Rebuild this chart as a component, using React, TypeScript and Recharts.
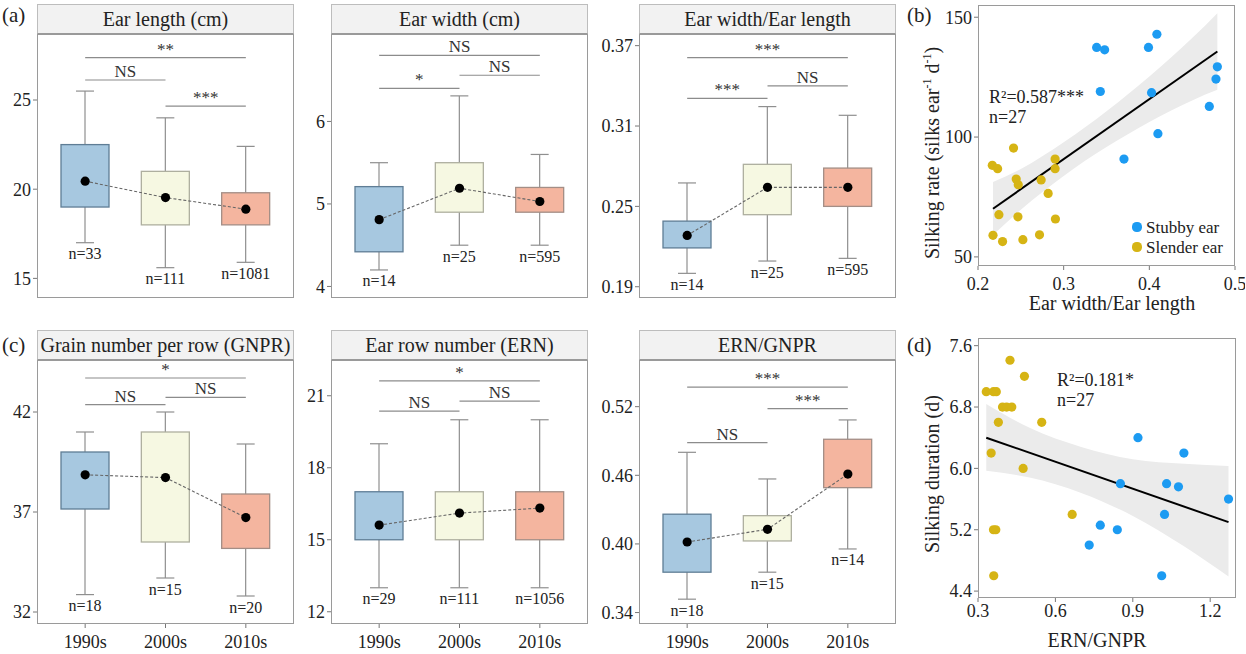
import React from 'react';
import { Area, Bar, ComposedChart, Line, ReferenceLine, Scatter, XAxis, YAxis } from 'recharts';

const FONT = "'Liberation Serif', 'Times New Roman', serif";
const INK = '#222';
const DECADES = ['1990s', '2000s', '2010s'];
const BOX_FILL = ['#a7c8e0', '#f6f8e2', '#f4b59f'];
const BOX_EDGE = ['#5f7d95', '#aeaf9f', '#a38e86'];
const STUBBY = '#1c9bf2';
const SLENDER = '#d6b414';

const PLOT_W = 257;
const PLOT_H = 264;

type Sig = { from: number; to: number; y: number; text: string };

// each row: lower whisker, Q1, Q3, upper whisker
const earLengthBox = [[17.0, 19.0, 22.5, 25.5], [15.6, 18.0, 21.0, 24.0], [15.9, 18.0, 19.8, 22.4]];
const earLengthMean = [20.45, 19.53, 18.88];
const earLengthN = [33, 111, 1081];
const earLengthTicks = [15, 20, 25];
const earLengthSig: Sig[] = [
  { from: 0, to: 2, y: 27.37, text: '**' },
  { from: 0, to: 1, y: 26.12, text: 'NS' },
  { from: 1, to: 2, y: 24.66, text: '***' },
];

const earWidthBox = [[4.2, 4.42, 5.21, 5.5], [4.5, 4.9, 5.5, 6.31], [4.5, 4.9, 5.2, 5.6]];
const earWidthMean = [4.81, 5.19, 5.03];
const earWidthN = [14, 25, 595];
const earWidthTicks = [4, 5, 6];
const earWidthSig: Sig[] = [
  { from: 0, to: 2, y: 6.8, text: 'NS' },
  { from: 1, to: 2, y: 6.56, text: 'NS' },
  { from: 0, to: 1, y: 6.4, text: '*' },
];

const shapeBox = [[0.2, 0.219, 0.239, 0.2675], [0.2092, 0.2438, 0.2814, 0.3245], [0.2112, 0.25, 0.2786, 0.318]];
const shapeMean = [0.2283, 0.2642, 0.2642];
const shapeN = [14, 25, 595];
const shapeTicks = [0.19, 0.25, 0.31, 0.37];
const shapeSig: Sig[] = [
  { from: 0, to: 2, y: 0.361, text: '***' },
  { from: 1, to: 2, y: 0.34, text: 'NS' },
  { from: 0, to: 1, y: 0.3307, text: '***' },
];

const gnprBox = [[32.87, 37.15, 40.0, 41.0], [33.7, 35.5, 41.0, 42.0], [32.8, 35.18, 37.9, 40.4]];
const gnprMean = [38.86, 38.72, 36.72];
const gnprN = [18, 15, 20];
const gnprTicks = [32, 37, 42];
const gnprSig: Sig[] = [
  { from: 0, to: 2, y: 43.7, text: '*' },
  { from: 0, to: 1, y: 42.37, text: 'NS' },
  { from: 1, to: 2, y: 42.73, text: 'NS' },
];

const ernBox = [[13, 15, 17, 19], [13, 15, 17, 20], [13, 15, 17, 20]];
const ernMean = [15.61, 16.11, 16.32];
const ernN = [29, 111, 1056];
const ernTicks = [12, 15, 18, 21];
const ernSig: Sig[] = [
  { from: 0, to: 2, y: 21.62, text: '*' },
  { from: 1, to: 2, y: 20.78, text: 'NS' },
  { from: 0, to: 1, y: 20.36, text: 'NS' },
];

const ratioBox = [[0.3517, 0.3753, 0.426, 0.4801], [0.3753, 0.4026, 0.4247, 0.4568], [0.3956, 0.4492, 0.4915, 0.5084]];
const ratioMean = [0.4017, 0.4128, 0.4611];
const ratioN = [18, 15, 14];
const ratioTicks = [0.34, 0.4, 0.46, 0.52];
const ratioSig: Sig[] = [
  { from: 0, to: 2, y: 0.537, text: '***' },
  { from: 1, to: 2, y: 0.5183, text: '***' },
  { from: 0, to: 1, y: 0.4885, text: 'NS' },
];

// (b) silking rate against ear width/ear length
const stubbyShape = [0.3385, 0.3478, 0.399, 0.4088, 0.3428, 0.4026, 0.4794, 0.4778, 0.47, 0.41, 0.3704];
const stubbyRate = [137.4, 136.4, 137.4, 142.9, 119.0, 118.5, 129.3, 124.2, 112.8, 101.4, 90.8];
const slenderShape = [0.2415, 0.2167, 0.2229, 0.29, 0.29, 0.2446, 0.247, 0.2737, 0.2819, 0.2244, 0.2466, 0.2904, 0.2175, 0.2287, 0.2524, 0.2718];
const slenderRate = [95.4, 88.2, 86.8, 90.8, 86.8, 82.5, 80.1, 82.1, 76.5, 67.6, 66.7, 65.8, 59.0, 56.4, 57.2, 59.2];
const rateFitX = [0.2175, 0.4794];
const rateFitY = [70.1, 135.7];
const rateBandX = [0.2175, 0.25, 0.3, 0.35, 0.4, 0.45, 0.4794];
const rateBandLo = [59.1, 69.7, 83.8, 95.8, 106.3, 115.3, 119.7];
const rateBandHi = [81.3, 86.7, 97.8, 110.8, 125.3, 141.3, 151.7];

// (d) silking duration against ERN/GNPR
const stubbyRatio = [0.92, 1.098, 0.852, 1.031, 1.077, 1.271, 1.023, 0.774, 0.84, 0.731, 1.012];
const stubbyDuration = [6.4, 6.2, 5.8, 5.8, 5.76, 5.6, 5.4, 5.26, 5.2, 5.0, 4.6];
const slenderRatio = [0.424, 0.48, 0.332, 0.36, 0.371, 0.395, 0.411, 0.431, 0.379, 0.547, 0.351, 0.475, 0.665, 0.36, 0.369, 0.361];
const slenderDuration = [7.41, 7.2, 7.0, 7.0, 7.0, 6.8, 6.8, 6.8, 6.6, 6.6, 6.2, 6.0, 5.4, 5.2, 5.2, 4.6];
const durationFitX = [0.332, 1.271];
const durationFitY = [6.4, 5.3];
const durationBandX = [0.332, 0.5, 0.7, 0.9, 1.1, 1.271];
const durationBandLo = [5.97, 5.88, 5.68, 5.38, 4.98, 4.59];
const durationBandHi = [6.84, 6.53, 6.28, 6.12, 6.06, 6.03];

const zipXY = (xs: number[], ys: number[]) => xs.map((x, i) => ({ x, y: ys[i] }));
const zipBand = (xs: number[], lo: number[], hi: number[]) => xs.map((x, i) => ({ x, band: [lo[i], hi[i]] }));

// whole box-and-whisker drawn inside the whisker range bar
const BoxShape = (props: any) => {
  const { x, y, width, height, payload } = props;
  const top = Math.min(y, y + height);
  const bottom = Math.max(y, y + height);
  const { lo, hi, q1, q3, n, idx } = payload;
  const toY = (v: number) => bottom - ((v - lo) / (hi - lo)) * (bottom - top);
  const cx = x + width / 2;
  const cap = 9;
  return (
    <g>
      <line x1={cx} x2={cx} y1={toY(hi)} y2={toY(lo)} stroke="#8f8f8f" strokeWidth={1.2} />
      <line x1={cx - cap} x2={cx + cap} y1={toY(hi)} y2={toY(hi)} stroke="#8f8f8f" strokeWidth={1.2} />
      <line x1={cx - cap} x2={cx + cap} y1={toY(lo)} y2={toY(lo)} stroke="#8f8f8f" strokeWidth={1.2} />
      <rect x={x} y={toY(q3)} width={width} height={toY(q1) - toY(q3)} fill={BOX_FILL[idx]} stroke={BOX_EDGE[idx]} strokeWidth={1.3} />
      <text x={cx} y={toY(lo) + 16.5} textAnchor="middle" fontSize={16} fill={INK}>
        n={n}
      </text>
    </g>
  );
};

const Dot = (props: any) => <circle cx={props.cx} cy={props.cy} r={4.6} fill={props.fill} />;

type BoxPanelProps = {
  title: string;
  box: number[][];
  mean: number[];
  n: number[];
  ticks: number[];
  domain: [number, number];
  sig: Sig[];
  left: number;
  top: number;
  showX: boolean;
  digits?: number;
};

function BoxPanel({ title, box, mean, n, ticks, domain, sig, left, top, showX, digits = 0 }: BoxPanelProps) {
  const data = DECADES.map((decade, i) => ({
    decade,
    idx: i,
    lo: box[i][0],
    q1: box[i][1],
    q3: box[i][2],
    hi: box[i][3],
    mean: mean[i],
    n: n[i],
  }));
  const xH = showX ? 36 : 8;
  return (
    <>
      <div
        style={{
          position: 'absolute',
          left,
          top: top - 30,
          width: PLOT_W,
          height: 30,
          boxSizing: 'border-box',
          background: '#f2f2f2',
          border: '1px solid #bdbdbd',
          borderBottom: '1px solid #9a9a9a',
          fontSize: 20,
          lineHeight: '28px',
          textAlign: 'center',
          whiteSpace: 'nowrap',
          color: INK,
        }}
      >
        {title}
      </div>
      <div style={{ position: 'absolute', left: left - 40, top: top - 2 }}>
        <ComposedChart width={40 + PLOT_W + 2} height={2 + PLOT_H + xH} data={data} margin={{ top: 2, right: 2, bottom: 0, left: 0 }}>
          <XAxis
            dataKey="decade"
            padding={{ left: 8, right: 8 }}
            axisLine={false}
            tickSize={4}
            tickMargin={7}
            height={xH}
            tick={showX ? { fontSize: 18, fill: INK } : false}
            tickLine={{ stroke: '#777' }}
          />
          <YAxis
            type="number"
            domain={domain}
            ticks={ticks}
            allowDataOverflow
            interval={0}
            width={40}
            axisLine={false}
            tickSize={4}
            tickMargin={2}
            tick={{ fontSize: 18, fill: INK }}
            tickLine={{ stroke: '#777' }}
            tickFormatter={(v: number) => v.toFixed(digits)}
          />
          {sig.map((s) => (
            <ReferenceLine
              key={`${s.from}-${s.to}`}
              segment={[
                { x: DECADES[s.from], y: s.y },
                { x: DECADES[s.to], y: s.y },
              ]}
              stroke="#8c8c8c"
              strokeWidth={1.2}
              label={{ value: s.text, position: 'top', offset: 3, fontSize: 17, fill: '#333' }}
            />
          ))}
          <Bar dataKey={(d: any) => [d.lo, d.hi]} barSize={48} shape={BoxShape} isAnimationActive={false} />
          <Line
            dataKey="mean"
            stroke="#666"
            strokeWidth={1.1}
            strokeDasharray="3 2"
            dot={{ r: 4.6, fill: '#000', stroke: '#000', strokeWidth: 0 }}
            activeDot={false}
            isAnimationActive={false}
          />
        </ComposedChart>
      </div>
      <div
        style={{
          position: 'absolute',
          left,
          top,
          width: PLOT_W,
          height: PLOT_H,
          boxSizing: 'border-box',
          border: '1px solid #9a9a9a',
          pointerEvents: 'none',
        }}
      />
    </>
  );
}

type ScatterPanelProps = {
  left: number;
  top: number;
  width: number;
  height: number;
  xDomain: [number, number];
  xTicks: number[];
  yDomain: [number, number];
  yTicks: number[];
  yDigits: number;
  tickGap: number;
  stubby: { x: number; y: number }[];
  slender: { x: number; y: number }[];
  fit: { x: number; y: number }[];
  band: { x: number; band: number[] }[];
};

function ScatterPanel(p: ScatterPanelProps) {
  const rightRoom = 10;
  return (
    <>
      <div style={{ position: 'absolute', left: p.left - 45, top: p.top - 2 }}>
        <ComposedChart
          width={45 + p.width + rightRoom}
          height={2 + p.height + 32}
          margin={{ top: 2, right: rightRoom, bottom: 0, left: 0 }}
        >
          <XAxis
            type="number"
            dataKey="x"
            domain={p.xDomain}
            ticks={p.xTicks}
            allowDataOverflow
            interval={0}
            axisLine={false}
            tickSize={4}
            tickMargin={p.tickGap}
            height={32}
            tick={{ fontSize: 18, fill: INK }}
            tickLine={{ stroke: '#777' }}
            tickFormatter={(v: number) => v.toFixed(1)}
          />
          <YAxis
            type="number"
            domain={p.yDomain}
            ticks={p.yTicks}
            allowDataOverflow
            interval={0}
            width={45}
            axisLine={false}
            tickSize={4}
            tickMargin={2}
            tick={{ fontSize: 18, fill: INK }}
            tickLine={{ stroke: '#777' }}
            tickFormatter={(v: number) => v.toFixed(p.yDigits)}
          />
          <Area data={p.band} dataKey="band" type="monotone" stroke="none" fill="#ebebeb" fillOpacity={1} legendType="none" isAnimationActive={false} />
          <Line data={p.fit} dataKey="y" type="linear" stroke="#000" strokeWidth={2} dot={false} activeDot={false} legendType="none" isAnimationActive={false} />
          <Scatter data={p.stubby} dataKey="y" name="Stubby ear" fill={STUBBY} shape={Dot} isAnimationActive={false} />
          <Scatter data={p.slender} dataKey="y" name="Slender ear" fill={SLENDER} shape={Dot} isAnimationActive={false} />
        </ComposedChart>
      </div>
      <div
        style={{
          position: 'absolute',
          left: p.left,
          top: p.top,
          width: p.width,
          height: p.height,
          boxSizing: 'border-box',
          border: '1px solid #9a9a9a',
          pointerEvents: 'none',
        }}
      />
    </>
  );
}

function Txt({ x, y, size, children, anchor = 'start' }: { x: number; y: number; size: number; children: React.ReactNode; anchor?: 'start' | 'middle' }) {
  return (
    <div
      style={{
        position: 'absolute',
        left: x,
        top: y - size / 2,
        fontSize: size,
        lineHeight: `${size}px`,
        whiteSpace: 'nowrap',
        color: INK,
        transform: anchor === 'middle' ? 'translateX(-50%)' : undefined,
      }}
    >
      {children}
    </div>
  );
}

function VTxt({ x, y, size, children }: { x: number; y: number; size: number; children: React.ReactNode }) {
  return (
    <div
      style={{
        position: 'absolute',
        left: x,
        top: y,
        fontSize: size,
        lineHeight: `${size}px`,
        whiteSpace: 'nowrap',
        color: INK,
        transform: 'translate(-50%, -50%) rotate(-90deg)',
      }}
    >
      {children}
    </div>
  );
}

function LegendRow({ x, y, color, label }: { x: number; y: number; color: string; label: string }) {
  return (
    <>
      <div style={{ position: 'absolute', left: x - 4.6, top: y - 4.6, width: 9.2, height: 9.2, borderRadius: '50%', background: color }} />
      <Txt x={x + 9} y={y} size={17}>
        {label}
      </Txt>
    </>
  );
}

export default function App() {
  return (
    <div style={{ position: 'absolute', left: 0, top: 0, width: 1246, height: 654, background: '#fff', fontFamily: FONT, overflow: 'hidden' }}>
      <BoxPanel title="Ear length (cm)" box={earLengthBox} mean={earLengthMean} n={earLengthN} ticks={earLengthTicks} domain={[13.9, 28.7]} sig={earLengthSig} left={37} top={34} showX={false} />
      <BoxPanel title="Ear width (cm)" box={earWidthBox} mean={earWidthMean} n={earWidthN} ticks={earWidthTicks} domain={[3.86, 7.06]} sig={earWidthSig} left={331} top={34} showX={false} />
      <BoxPanel title="Ear width/Ear length" box={shapeBox} mean={shapeMean} n={shapeN} ticks={shapeTicks} domain={[0.1816, 0.3787]} sig={shapeSig} left={639} top={34} showX={false} digits={2} />
      <BoxPanel title="Grain number per row (GNPR)" box={gnprBox} mean={gnprMean} n={gnprN} ticks={gnprTicks} domain={[31.4, 44.6]} sig={gnprSig} left={37} top={360} showX />
      <BoxPanel title="Ear row number (ERN)" box={ernBox} mean={ernMean} n={ernN} ticks={ernTicks} domain={[11.49, 22.49]} sig={ernSig} left={331} top={360} showX />
      <BoxPanel title="ERN/GNPR" box={ratioBox} mean={ratioMean} n={ratioN} ticks={ratioTicks} domain={[0.33, 0.5608]} sig={ratioSig} left={639} top={360} showX digits={2} />

      <ScatterPanel
        left={978}
        top={5}
        width={257}
        height={261}
        xDomain={[0.2, 0.5]}
        xTicks={[0.2, 0.3, 0.4, 0.5]}
        yDomain={[46.2, 155.1]}
        yTicks={[50, 100, 150]}
        yDigits={0}
        tickGap={7}
        stubby={zipXY(stubbyShape, stubbyRate)}
        slender={zipXY(slenderShape, slenderRate)}
        fit={zipXY(rateFitX, rateFitY)}
        band={zipBand(rateBandX, rateBandLo, rateBandHi)}
      />
      <ScatterPanel
        left={978}
        top={338}
        width={258}
        height={260}
        xDomain={[0.3, 1.3]}
        xTicks={[0.3, 0.6, 0.9, 1.2]}
        yDomain={[4.31, 7.7]}
        yTicks={[4.4, 5.2, 6.0, 6.8, 7.6]}
        yDigits={1}
        tickGap={2}
        stubby={zipXY(stubbyRatio, stubbyDuration)}
        slender={zipXY(slenderRatio, slenderDuration)}
        fit={zipXY(durationFitX, durationFitY)}
        band={zipBand(durationBandX, durationBandLo, durationBandHi)}
      />

      <Txt x={2} y={15} size={21}>(a)</Txt>
      <Txt x={2} y={345} size={21}>(c)</Txt>
      <Txt x={907} y={15} size={21}>(b)</Txt>
      <Txt x={907} y={345} size={21}>(d)</Txt>

      <Txt x={989} y={97} size={18}>R²=0.587***</Txt>
      <Txt x={989} y={117} size={18}>n=27</Txt>
      <Txt x={1057} y={380} size={18}>R²=0.181*</Txt>
      <Txt x={1057} y={400} size={18}>n=27</Txt>

      <LegendRow x={1137} y={227} color={STUBBY} label="Stubby ear" />
      <LegendRow x={1137} y={247} color={SLENDER} label="Slender ear" />

      <Txt x={1112} y={303} size={20} anchor="middle">Ear width/Ear length</Txt>
      <Txt x={1097} y={640} size={20} anchor="middle">ERN/GNPR</Txt>
      <VTxt x={932} y={153} size={20}>
        Silking rate (silks ear<sup style={{ fontSize: '0.6em', lineHeight: 0 }}>-1</sup> d<sup style={{ fontSize: '0.6em', lineHeight: 0 }}>-1</sup>)
      </VTxt>
      <VTxt x={932} y={474} size={20}>Silking duration (d)</VTxt>
    </div>
  );
}
